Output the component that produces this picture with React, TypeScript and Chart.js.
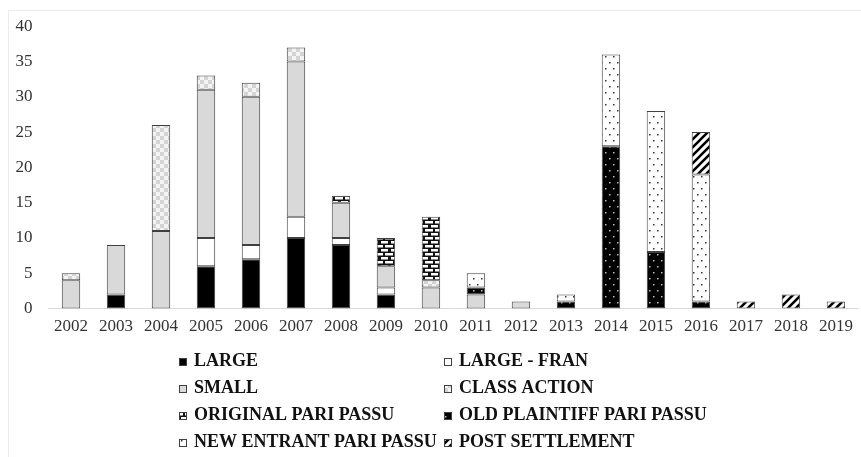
import React, { useEffect, useRef } from "react";
import { Chart, registerables } from "chart.js";

Chart.register(...registerables);

const years = ["2002","2003","2004","2005","2006","2007","2008","2009","2010","2011","2012","2013","2014","2015","2016","2017","2018","2019"];

const large =       [0, 2, 0, 6, 7, 10, 9, 2, 0, 0, 0, 0, 0, 0, 0, 0, 0, 0];
const largeFran =   [0, 0, 0, 4, 2, 3, 1, 1, 0, 0, 0, 0, 0, 0, 0, 0, 0, 0];
const small =       [4, 7, 11, 21, 21, 22, 5, 3, 3, 2, 1, 0, 0, 0, 0, 0, 0, 0];
const classAction = [1, 0, 15, 2, 2, 2, 0, 0, 1, 0, 0, 0, 0, 0, 0, 0, 0, 0];
const originalPP =  [0, 0, 0, 0, 0, 0, 1, 4, 9, 0, 0, 0, 0, 0, 0, 0, 0, 0];
const oldPlaintiffPP = [0, 0, 0, 0, 0, 0, 0, 0, 0, 1, 0, 1, 23, 8, 1, 0, 0, 0];
const newEntrantPP =   [0, 0, 0, 0, 0, 0, 0, 0, 0, 2, 0, 1, 13, 20, 18, 0, 0, 0];
const postSettlement = [0, 0, 0, 0, 0, 0, 0, 0, 0, 0, 0, 0, 0, 0, 6, 1, 2, 1];

const seriesLabels = [
  "LARGE",
  "LARGE - FRAN",
  "SMALL",
  "CLASS ACTION",
  "ORIGINAL PARI PASSU",
  "OLD PLAINTIFF PARI PASSU",
  "NEW ENTRANT PARI PASSU",
  "POST SETTLEMENT",
];

const yTicks = [0, 5, 10, 15, 20, 25, 30, 35, 40];

function tile(w: number, h: number, draw: (c: CanvasRenderingContext2D) => void): CanvasPattern | string {
  const cv = document.createElement("canvas");
  cv.width = w;
  cv.height = h;
  const c = cv.getContext("2d")!;
  draw(c);
  const ctx = document.createElement("canvas").getContext("2d")!;
  return ctx.createPattern(cv, "repeat") || "#888";
}

function makeFills() {
  const checker = tile(8, 8, (c) => {
    c.fillStyle = "#f4f4f4";
    c.fillRect(0, 0, 8, 8);
    c.fillStyle = "#d4d4d4";
    c.fillRect(0, 0, 4, 4);
    c.fillRect(4, 4, 4, 4);
  });
  const brick = tile(10, 8, (c) => {
    c.fillStyle = "#111";
    c.fillRect(0, 0, 10, 8);
    c.fillStyle = "#fff";
    c.fillRect(1, 1, 7, 2.5);
    c.fillRect(0, 5, 3, 2.5);
    c.fillRect(5, 5, 5, 2.5);
  });
  const darkDots = tile(8, 12, (c) => {
    c.fillStyle = "#000";
    c.fillRect(0, 0, 8, 12);
    c.fillStyle = "#bbb";
    c.fillRect(1, 2, 1.5, 1.5);
    c.fillRect(5, 8, 1.5, 1.5);
  });
  const lightDots = tile(8, 12, (c) => {
    c.fillStyle = "#fff";
    c.fillRect(0, 0, 8, 12);
    c.fillStyle = "#333";
    c.fillRect(1, 2, 1.5, 1.5);
    c.fillRect(5, 8, 1.5, 1.5);
  });
  const stripes = tile(8, 8, (c) => {
    c.fillStyle = "#fff";
    c.fillRect(0, 0, 8, 8);
    c.strokeStyle = "#000";
    c.lineWidth = 2.6;
    c.beginPath();
    c.moveTo(-2, 10); c.lineTo(10, -2);
    c.moveTo(-6, 6); c.lineTo(6, -6);
    c.moveTo(2, 14); c.lineTo(14, 2);
    c.stroke();
  });
  return ["#000000", "#ffffff", "#d9d9d9", checker, brick, darkDots, lightDots, stripes];
}

const gridLegend = {
  id: "gridLegend",
  afterDraw(chart: any) {
    const ctx: CanvasRenderingContext2D = chart.ctx;
    const cols = [179, 444];
    const baselines = [366, 393, 420, 447];
    ctx.save();
    chart.data.datasets.forEach((ds: any, i: number) => {
      const x = cols[i % 2];
      const b = baselines[Math.floor(i / 2)];
      ctx.fillStyle = ds.backgroundColor;
      ctx.fillRect(x, b - 8, 8, 8);
      ctx.strokeStyle = "#404040";
      ctx.lineWidth = 1;
      ctx.strokeRect(x + 0.5, b - 7.5, 7, 7);
      ctx.fillStyle = "#111";
      ctx.font = 'bold 18px "Liberation Serif"';
      ctx.textAlign = "left";
      ctx.textBaseline = "alphabetic";
      ctx.fillText(ds.label, x + 15, b);
    });
    ctx.restore();
  },
};

const frame = {
  id: "frame",
  beforeDraw(chart: any) {
    const ctx: CanvasRenderingContext2D = chart.ctx;
    ctx.save();
    ctx.fillStyle = "#fff";
    ctx.fillRect(0, 0, chart.width, chart.height);
    ctx.strokeStyle = "#ececec";
    ctx.lineWidth = 1;
    ctx.strokeRect(8.5, 10.5, chart.width + 20, chart.height + 20);
    ctx.restore();
  },
};

export default function App() {
  const ref = useRef<HTMLCanvasElement>(null);
  useEffect(() => {
    const canvas = ref.current!;
    const fills = makeFills();
    const series = [large, largeFran, small, classAction, originalPP, oldPlaintiffPP, newEntrantPP, postSettlement];
    const chart = new Chart(canvas, {
      type: "bar",
      data: {
        labels: years,
        datasets: series.map((vals, i) => ({
          label: seriesLabels[i],
          data: vals.map((v) => (v === 0 ? null : v)),
          backgroundColor: fills[i] as any,
          borderColor: "#404040",
          borderWidth: 1,
          borderSkipped: false,
          barPercentage: 0.41,
          categoryPercentage: 1,
        })),
      },
      options: {
        responsive: false,
        devicePixelRatio: 1,
        animation: false,
        layout: { padding: { top: 25, left: 8.5, right: 2.5, bottom: 112 } },
        plugins: { legend: { display: false }, tooltip: { enabled: false } },
        scales: {
          x: {
            stacked: true,
            grid: { display: false, drawTicks: false },
            border: { display: true, color: "#d9d9d9", width: 1 },
            ticks: {
              padding: 8,
              color: "#333",
              font: { family: '"Liberation Serif"', size: 17 },
              maxRotation: 0,
              autoSkip: false,
            },
          },
          y: {
            stacked: true,
            min: 0,
            max: 40,
            afterFit: (s: any) => { s.width = 40; },
            afterBuildTicks: (s: any) => { s.ticks = yTicks.map((v) => ({ value: v })); },
            grid: { display: false, drawTicks: false },
            border: { display: false },
            ticks: {
              padding: 16,
              color: "#333",
              font: { family: '"Liberation Serif"', size: 17 },
            },
          },
        },
      },
      plugins: [frame, gridLegend],
    });
    return () => chart.destroy();
  }, []);
  return (
    <div style={{ position: "fixed", left: 0, top: 0, width: 861, height: 457, background: "#fff" }}>
      <canvas ref={ref} width={861} height={457} style={{ width: 861, height: 457, display: "block" }} />
    </div>
  );
}
